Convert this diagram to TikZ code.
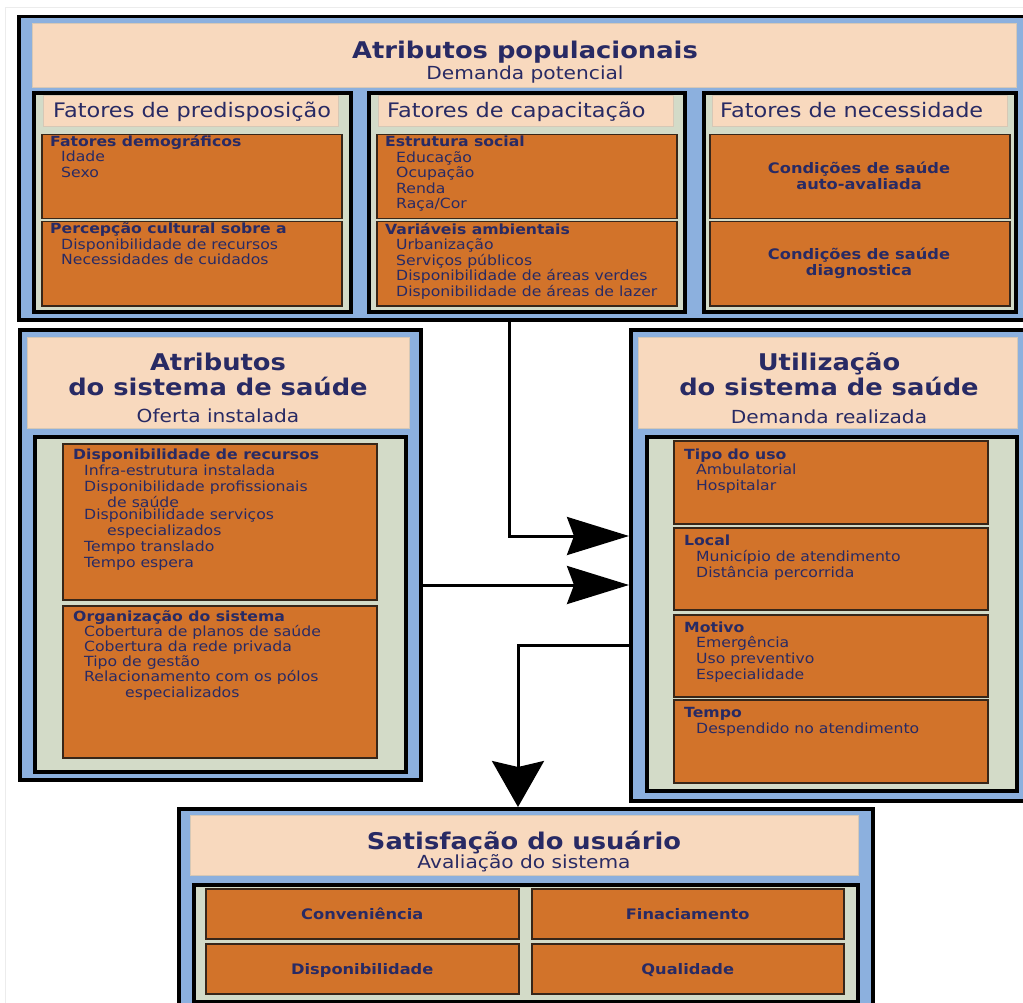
\documentclass[tikz,border=0pt]{standalone}
\usepackage{fontspec}
\setmainfont{DejaVu Sans}[FakeStretch=1.12]
\usetikzlibrary{arrows.meta}
\definecolor{pblue}{RGB}{140,176,222}
\definecolor{peach}{RGB}{248,217,190}
\definecolor{peachedge}{RGB}{214,200,182}
\definecolor{ggreen}{RGB}{211,219,200}
\definecolor{orng}{RGB}{210,115,42}
\definecolor{obrd}{RGB}{55,38,25}
\definecolor{navy}{RGB}{40,42,100}
\newcommand\rbox[6]{\node[#2, anchor=north west, minimum width={#5pt-#3pt}, minimum height={#6pt-#4pt}] (#1) at (#3,#4) {};}
\begin{document}
\begin{tikzpicture}[x=1pt,y=-1pt,
  outer/.style={rectangle, inner sep=0, draw=black, line width=3.5pt, fill=pblue},
  head/.style={rectangle, inner sep=0, draw=peachedge, line width=0.8pt, fill=peach},
  inner/.style={rectangle, inner sep=0, draw=black, line width=4pt, fill=ggreen},
  obox/.style={rectangle, inner sep=0, draw=obrd, line width=1.5pt, fill=orng},
  body/.style={font=\fontsize{14}{15.5}\selectfont, text=navy, align=left, anchor=base west, inner sep=0},
  ttl/.style={font=\bfseries\fontsize{23}{25}\selectfont, text=navy, align=center, anchor=base, inner sep=0},
  subt/.style={font=\fontsize{18}{20}\selectfont, text=navy, anchor=base, inner sep=0},
  fhead/.style={font=\fontsize{20}{22}\selectfont, text=navy, anchor=base west, inner sep=0},
  cbold/.style={font=\bfseries\fontsize{14.5}{16}\selectfont, text=navy, align=center, anchor=base, inner sep=0},
  arr/.style={line width=3pt, -{Stealth[length=62pt,width=38pt,inset=7pt]}},
  darr/.style={line width=3pt, -{Stealth[length=46pt,width=52pt,inset=6pt]}}
]
\useasboundingbox (0,0) rectangle (1023,1003);
\clip (0,0) rectangle (1023,1003);
\fill[white] (0,0) rectangle (1023,1003);
\draw[gray!15, line width=1pt] (5,1003) -- (5,8) -- (1023,8);

% ---------- top panel ----------
\rbox{P1}{outer}{17}{15}{1035}{318}
\rbox{H1}{head}{32}{23}{1016}{87}
\node[ttl] (t1) at (525,58.5) {Atributos populacionais};
\node[subt] (t1s) at (525,80) {Demanda potencial};

\rbox{SA}{inner}{32}{91}{349}{310}
\rbox{SB}{inner}{367}{91}{683}{310}
\rbox{SC}{inner}{702}{91}{1014}{310}
\rbox{HA}{head}{43}{95}{338}{126}
\rbox{HB}{head}{378}{95}{673}{126}
\rbox{HC}{head}{712}{95}{1007}{126}
\node[fhead] (hA) at (53,118) {Fatores de predisposição};
\node[fhead] (hB) at (387,118) {Fatores de capacitação};
\node[fhead] (hC) at (720,118) {Fatores de necessidade};

\rbox{A1}{obox}{41}{134}{341}{218}
\rbox{A2}{obox}{41}{221}{341}{305}
\rbox{B1}{obox}{376}{134}{676}{218}
\rbox{B2}{obox}{376}{221}{676}{305}
\rbox{C1}{obox}{709}{134}{1009}{218}
\rbox{C2}{obox}{709}{221}{1009}{305}

% (anchor base = baseline of the last line)
\node[body] (xA1) at (50,177.5) {\textbf{Fatores demográficos}\\\hspace*{11pt}Idade\\\hspace*{11pt}Sexo};
\node[body] (xA2) at (50,265) {\textbf{Percepção cultural sobre a}\\\hspace*{11pt}Disponibilidade de recursos\\\hspace*{11pt}Necessidades de cuidados};
\node[body] (xB1) at (385,209) {\textbf{Estrutura social}\\\hspace*{11pt}Educação\\\hspace*{11pt}Ocupação\\\hspace*{11pt}Renda\\\hspace*{11pt}Raça/Cor};
\node[body] (xB2) at (385,296) {\textbf{Variáveis ambientais}\\\hspace*{11pt}Urbanização\\\hspace*{11pt}Serviços públicos\\\hspace*{11pt}Disponibilidade de áreas verdes\\\hspace*{11pt}Disponibilidade de áreas de lazer};
\node[cbold] (xC1) at (859,190) {Condições de saúde\\auto-avaliada};
\node[cbold] (xC2) at (859,276) {Condições de saúde\\diagnostica};

% ---------- left panel ----------
\rbox{P2}{outer}{18}{328}{419}{778}
\rbox{H2}{head}{27}{337}{409}{428}
\node[ttl] (t2) at (218,395) {Atributos\\do sistema de saúde};
\node[subt] (t2s) at (218,422) {Oferta instalada};
\rbox{S2}{inner}{33}{435}{404}{770}
\rbox{L1}{obox}{62}{443}{376}{599}
\rbox{L2}{obox}{62}{605}{376}{757}
\node[body, font=\fontsize{14}{16}\selectfont] (xL1) at (73,567.5) {\textbf{Disponibilidade de recursos}\\\hspace*{11pt}Infra-estrutura instalada\\\hspace*{11pt}Disponibilidade profissionais\\\hspace*{34pt}de saúde\\[-3.5pt]\hspace*{11pt}Disponibilidade serviços\\\hspace*{34pt}especializados\\\hspace*{11pt}Tempo translado\\\hspace*{11pt}Tempo espera};
\node[body, font=\fontsize{14}{15.2}\selectfont] (xL2) at (73,697) {\textbf{Organização do sistema}\\\hspace*{11pt}Cobertura de planos de saúde\\\hspace*{11pt}Cobertura da rede privada\\\hspace*{11pt}Tipo de gestão\\\hspace*{11pt}Relacionamento com os pólos\\\hspace*{52pt}especializados};

% ---------- right panel ----------
\rbox{P3}{outer}{629}{328}{1035}{799}
\rbox{H3}{head}{638}{337}{1017}{428}
\node[ttl] (t3) at (829,395) {Utilização\\do sistema de saúde};
\node[subt] (t3s) at (829,423) {Demanda realizada};
\rbox{S3}{inner}{645}{435}{1015}{789}
\rbox{R1}{obox}{673}{440}{987}{523}
\rbox{R2}{obox}{673}{527}{987}{609}
\rbox{R3}{obox}{673}{614}{987}{696}
\rbox{R4}{obox}{673}{699}{987}{782}
\node[body, font=\fontsize{14}{15.75}\selectfont] (xR1) at (684,490.5) {\textbf{Tipo do uso}\\\hspace*{12pt}Ambulatorial\\\hspace*{12pt}Hospitalar};
\node[body, font=\fontsize{14}{15.75}\selectfont] (xR2) at (684,577) {\textbf{Local}\\\hspace*{12pt}Município de atendimento\\\hspace*{12pt}Distância percorrida};
\node[body, font=\fontsize{14}{15.75}\selectfont] (xR3) at (684,679.25) {\textbf{Motivo}\\\hspace*{12pt}Emergência\\\hspace*{12pt}Uso preventivo\\\hspace*{12pt}Especialidade};
\node[body, font=\fontsize{14}{16}\selectfont] (xR4) at (684,733.5) {\textbf{Tempo}\\\hspace*{12pt}Despendido no atendimento};

% ---------- bottom panel ----------
\rbox{P4}{outer}{177}{807}{871}{1015}
\rbox{H4}{head}{190}{815}{858}{875}
\node[ttl] (t4) at (524,849.5) {Satisfação do usuário};
\node[subt] (t4s) at (524,868.5) {Avaliação do sistema};
\rbox{S4}{inner}{192}{883}{856}{1000}
\rbox{Q1}{obox}{205}{888}{518}{938}
\rbox{Q2}{obox}{531}{888}{843}{938}
\rbox{Q3}{obox}{205}{943}{518}{993}
\rbox{Q4}{obox}{531}{943}{843}{993}
\node[cbold] (xQ1) at (Q1.center) [yshift=-5.5pt] {Conveniência};
\node[cbold] (xQ2) at (Q2.center) [yshift=-5.5pt] {Finaciamento};
\node[cbold] (xQ3) at (Q3.center) [yshift=-5.5pt] {Disponibilidade};
\node[cbold] (xQ4) at (Q4.center) [yshift=-5.5pt] {Qualidade};

% ---------- connectors ----------
\coordinate (c1) at (509,536);
\coordinate (c2) at (500,585);
\coordinate (c3) at (518,645);
\draw[arr] (c1 |- P1.south) -- (c1) -- (c1 -| P3.west);
\draw[arr] (P2.east |- c2) -- (P3.west |- c2);
\draw[darr] (P3.west |- c3) -- (c3) -- (c3 |- P4.north);
\end{tikzpicture}
\end{document}
